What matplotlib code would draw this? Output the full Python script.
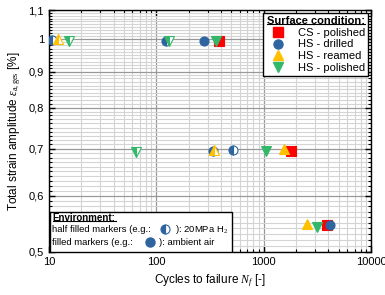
import numpy as np
import matplotlib
matplotlib.use('Agg')
import matplotlib.pyplot as plt
from matplotlib.ticker import FixedLocator, FuncFormatter, NullFormatter
from matplotlib.lines import Line2D

plt.rcParams['font.family'] = ['Liberation Sans', 'DejaVu Sans']
plt.rcParams['mathtext.fontset'] = 'custom'
plt.rcParams['mathtext.rm'] = 'Liberation Serif'
plt.rcParams['mathtext.it'] = 'Liberation Serif:italic'

# data: (cycles, strain amplitude, half filled?)
cs_polished_n = [383, 1780, 3900]
cs_polished_e = [0.995, 0.695, 0.545]
cs_polished_h2 = [False, False, False]

hs_drilled_n = [10.7, 124, 278, 340, 517, 4150]
hs_drilled_e = [0.997, 0.993, 0.995, 0.695, 0.697, 0.545]
hs_drilled_h2 = [True, True, False, True, True, False]

hs_reamed_n = [12.1, 344, 1560, 2550]
hs_reamed_e = [1.0, 0.697, 0.699, 0.548]
hs_reamed_h2 = [True, True, False, False]

hs_polished_n = [15.3, 132, 360, 65, 1045, 3160]
hs_polished_e = [0.993, 0.993, 0.993, 0.692, 0.695, 0.542]
hs_polished_h2 = [True, True, False, True, False, False]

series = [
    ('CS - polished', cs_polished_n, cs_polished_e, cs_polished_h2, 's', '#ff0000'),
    ('HS - drilled', hs_drilled_n, hs_drilled_e, hs_drilled_h2, 'o', '#2e64a0'),
    ('HS - reamed', hs_reamed_n, hs_reamed_e, hs_reamed_h2, '^', '#ffc000'),
    ('HS - polished', hs_polished_n, hs_polished_e, hs_polished_h2, 'v', '#33b86a'),
]

fig = plt.figure(figsize=(3.85, 2.95), dpi=100)
ax = fig.add_axes([0.127, 0.146, 0.837, 0.820])

ax.set_xscale('log')
ax.set_yscale('log')
ax.set_xlim(10, 10000)
ax.set_ylim(0.5, 1.1)

# ticks and grid
yticks = [0.5, 0.6, 0.7, 0.8, 0.9, 1.0, 1.1]
ax.yaxis.set_major_locator(FixedLocator(yticks))
ax.yaxis.set_minor_locator(FixedLocator(np.arange(0.5, 1.1, 0.01)))
ax.yaxis.set_major_formatter(FuncFormatter(lambda v, p: ('%g' % v).replace('.', ',')))
ax.yaxis.set_minor_formatter(NullFormatter())
ax.xaxis.set_major_formatter(FuncFormatter(lambda v, p: '%d' % v))
ax.tick_params(which='both', direction='in', top=True, right=True, labelsize=8)
ax.tick_params(which='major', length=4, width=1)
ax.tick_params(which='minor', length=2, width=0.8)
ax.grid(which='major', color='#999999', lw=0.9)
ax.grid(which='minor', color='#d4d4d4', lw=0.8)
ax.set_axisbelow(True)
for s in ax.spines.values():
    s.set_linewidth(1.0)

ms = 6.5
for name, n, e, h2, mk, col in series:
    for x, y, half in zip(n, e, h2):
        if half:
            ax.plot(x, y, marker=mk, ms=ms, color=col, mec=col, fillstyle='left',
                    markerfacecoloralt='white', mew=0.8, ls='none', zorder=3)
        else:
            ax.plot(x, y, marker=mk, ms=ms, color=col, mec=col, mew=0.8, ls='none', zorder=3)

ax.set_xlabel('Cycles to failure $N_f$ [-]', fontsize=8.5)
ax.set_ylabel(r'Total strain amplitude $\varepsilon_{\mathrm{a,ges}}$ [%]', fontsize=8.5)

# surface legend
handles = [Line2D([], [], marker=mk, color=col, ls='none', ms=ms) for _, _, _, _, mk, col in series]
labels = [s[0] for s in series]
leg = ax.legend(handles, labels, loc='upper right', fontsize=8, title='Surface condition:',
                title_fontproperties={'weight': 'bold', 'size': 8}, frameon=True, fancybox=False,
                edgecolor='black', framealpha=1, borderpad=0.3, handletextpad=0.8,
                labelspacing=0.15, borderaxespad=0.25, markerfirst=True)
leg._legend_box.align = 'right'
leg.get_frame().set_linewidth(1.0)

# environment box
env_box = plt.Rectangle((0.004, 0.0), 0.565, 0.165, transform=ax.transAxes, facecolor='white',
                        edgecolor='black', lw=1.0, zorder=4)
ax.add_patch(env_box)
env_title = ax.text(0.012, 0.142, 'Environment:', transform=ax.transAxes, fontsize=7,
                    weight='bold', va='center', zorder=5)
ax.text(0.009, 0.093, 'half filled markers (e.g.:', transform=ax.transAxes,
        fontsize=6.8, va='center', zorder=5)
ax.text(0.39, 0.093, '): 20MPa H$_2$', transform=ax.transAxes,
        fontsize=6.8, va='center', zorder=5)
ax.text(0.009, 0.038, 'filled markers (e.g.:', transform=ax.transAxes,
        fontsize=6.8, va='center', zorder=5)
ax.text(0.342, 0.038, '): ambient air', transform=ax.transAxes,
        fontsize=6.8, va='center', zorder=5)
ax.plot(0.36, 0.095, transform=ax.transAxes, marker='o', ms=6.5, color='#2e64a0', mec='#2e64a0',
        fillstyle='left', markerfacecoloralt='white', mew=0.8, zorder=6, clip_on=False)
ax.plot(0.313, 0.040, transform=ax.transAxes, marker='o', ms=6.5, color='#2e64a0', zorder=6,
        clip_on=False)

# underlines under bold titles
fig.canvas.draw()
inv = fig.transFigure.inverted()
for t in [leg.get_title(), env_title]:
    bb = t.get_window_extent()
    (x0, y0), (x1, y1) = inv.transform([[bb.x0, bb.y0], [bb.x1, bb.y0]])
    fig.add_artist(Line2D([x0, x1], [y0 + 0.006, y0 + 0.006], color='black', lw=0.8,
                          transform=fig.transFigure, zorder=10))

fig.savefig('out.png', dpi=100)
